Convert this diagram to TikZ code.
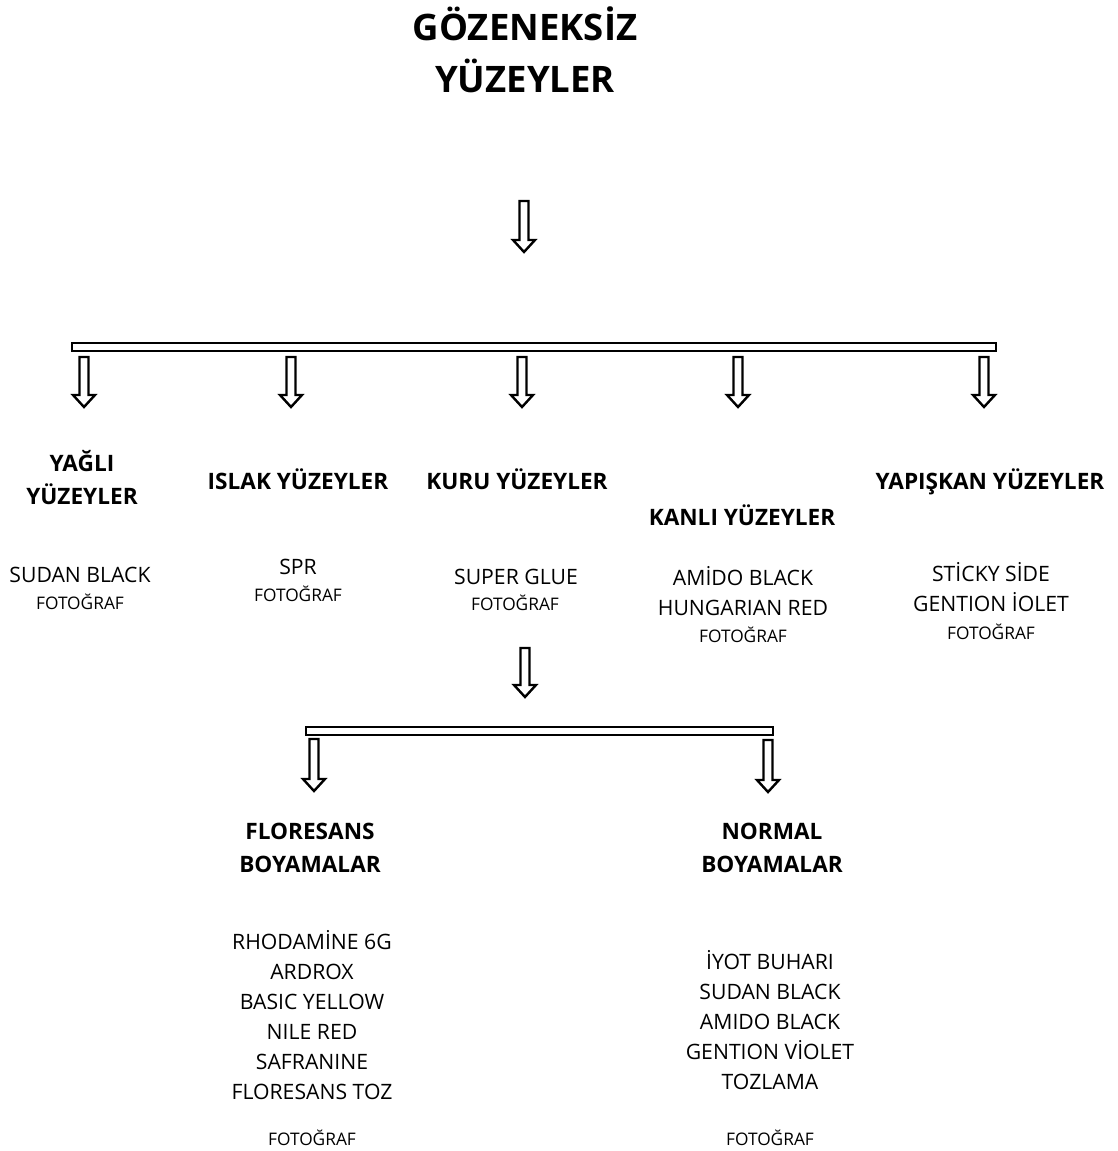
\documentclass[tikz,border=0pt]{standalone}
\usepackage{fontspec}
\setmainfont{Open Sans}
\begin{document}
\begin{tikzpicture}[x=1pt,y=-1pt,
  hollow/.style={draw=black,line width=2.4pt,fill=white,line join=miter},
  titletxt/.style={font=\fontsize{36.5}{52}\selectfont\bfseries,align=center,anchor=base,inner sep=0},
  headtxt/.style={font=\fontsize{22.6}{33}\selectfont\bfseries,align=center,anchor=base,inner sep=0},
  bodytxt/.style={font=\fontsize{21.2}{30}\selectfont,align=center,anchor=base,inner sep=0},
  phototxt/.style={font=\fontsize{17.3}{20}\selectfont,anchor=base,inner sep=0}]
\useasboundingbox (0,0) rectangle (1118,1151);
\newcommand\hollowarrow[3]{% x, ytop, ytip
  \draw[hollow] (#1-4.5,#2) -- (#1+4.5,#2) -- (#1+4.5,#3-12) -- (#1+11,#3-12) -- (#1,#3) -- (#1-11,#3-12) -- (#1-4.5,#3-12) -- cycle;}
% title
\node[titletxt] (title) at (525,92) {GÖZENEKSİZ\\YÜZEYLER};
\hollowarrow{524}{201}{252}
% top bar
\draw[hollow] (72,343) rectangle (996,351);
\hollowarrow{84}{357}{407}
\hollowarrow{291}{357}{407}
\hollowarrow{522}{357}{407}
\hollowarrow{738}{357}{407}
\hollowarrow{984}{357}{407}
% headings
\node[headtxt] (yagli) at (82,504) {YAĞLI\\YÜZEYLER};
\node[headtxt] (islak) at (298,489) {ISLAK YÜZEYLER};
\node[headtxt] (kuru) at (517,489) {KURU YÜZEYLER};
\node[headtxt] (kanli) at (742,525) {KANLI YÜZEYLER};
\node[headtxt] (yapiskan) at (990,489) {YAPIŞKAN YÜZEYLER};
% bodies
\node[bodytxt] (b1) at (80,582) {SUDAN BLACK};
\node[phototxt] (f1) at (80,609) {FOTOĞRAF};
\node[bodytxt] (b2) at (298,574) {SPR};
\node[phototxt] (f2) at (298,601) {FOTOĞRAF};
\node[bodytxt] (b3) at (516,584) {SUPER GLUE};
\node[phototxt] (f3) at (515,610) {FOTOĞRAF};
\node[bodytxt] (b4) at (743,615) {AMİDO BLACK\\HUNGARIAN RED};
\node[phototxt] (f4) at (743,642) {FOTOĞRAF};
\node[bodytxt] (b5) at (991,611) {STİCKY SİDE\\GENTION İOLET};
\node[phototxt] (f5) at (991,639) {FOTOĞRAF};
% second level
\hollowarrow{525}{648}{697}
\draw[hollow] (306,727) rectangle (773,735);
\hollowarrow{314}{739}{791}
\hollowarrow{768}{740}{792}
\node[headtxt] (flor) at (310,872) {FLORESANS\\BOYAMALAR};
\node[headtxt] (norm) at (772,872) {NORMAL\\BOYAMALAR};
\node[bodytxt] (l1) at (312,1099) {RHODAMİNE 6G\\ARDROX\\BASIC YELLOW\\NILE RED\\SAFRANINE\\FLORESANS TOZ};
\node[phototxt] (lf) at (312,1145) {FOTOĞRAF};
\node[bodytxt] (r1) at (770,1089) {İYOT BUHARI\\SUDAN BLACK\\AMIDO BLACK\\GENTION VİOLET\\TOZLAMA};
\node[phototxt] (rf) at (770,1145) {FOTOĞRAF};
\end{tikzpicture}
\end{document}
